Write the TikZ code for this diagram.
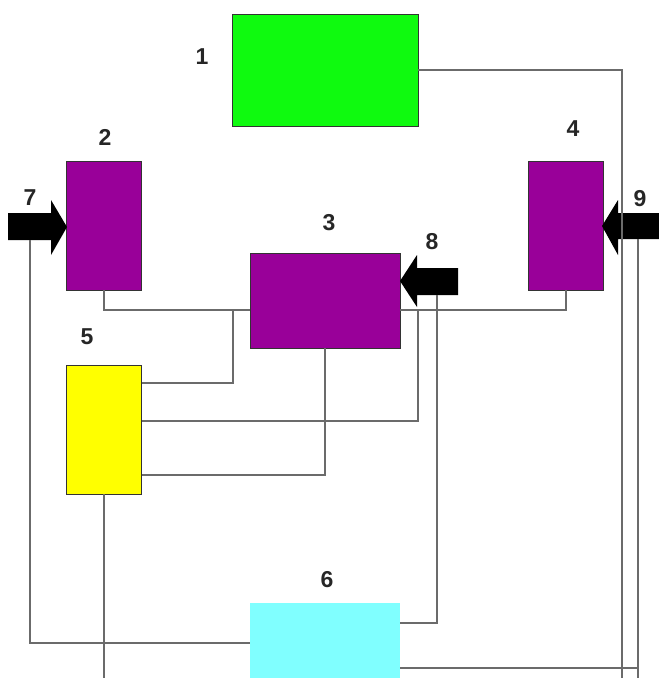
\documentclass[tikz,border=0pt]{standalone}
\usepackage{fontspec}
\setmainfont{Liberation Sans}
\begin{document}
\begin{tikzpicture}[x=1pt,y=-1pt,
  box/.style={draw=black!80,line width=0.6pt,inner sep=0pt},
  wire/.style={draw=black!58,line width=1.5pt},
  lbl/.style={font=\fontsize{23}{23}\selectfont\bfseries,text=black!85,inner sep=0pt},
  fatarrow/.style={fill=black}]
\useasboundingbox (0,0) rectangle (659,678);
\definecolor{cpurple}{RGB}{153,0,153}
\definecolor{cgreen}{RGB}{15,250,15}
\definecolor{cyellow}{RGB}{255,255,0}
\definecolor{ccyan}{RGB}{128,255,255}
% boxes
\node[box,fill=cgreen,minimum width=186pt,minimum height=112pt] (b1) at (325,70) {};
\node[box,fill=cpurple,minimum width=75pt,minimum height=129pt] (b2) at (104,225.5) {};
\node[box,fill=cpurple,minimum width=150pt,minimum height=95pt] (b3) at (325,300.5) {};
\node[box,fill=cpurple,minimum width=75pt,minimum height=129pt] (b4) at (566,225.5) {};
\node[box,fill=cyellow,minimum width=75pt,minimum height=129pt] (b5) at (104,429.5) {};
\node[inner sep=0pt,fill=ccyan,minimum width=150pt,minimum height=87pt] (b6) at (325,646.5) {};
% labels
\node[lbl] (l1) at (202,57) {1};
\node[lbl] (l2) at (105,137) {2};
\node[lbl] (l3) at (329,223) {3};
\node[lbl] (l4) at (573,129) {4};
\node[lbl] (l5) at (87,337) {5};
\node[lbl] (l6) at (327,580) {6};
\node[lbl] (l7) at (30,198) {7};
\node[lbl] (l8) at (432,242) {8};
\node[lbl] (l9) at (640,199) {9};
% fat arrows
\fill[fatarrow] (8,213) -- (51,213) -- (51,200) -- (67,227) -- (51,255) -- (51,240) -- (8,240) -- cycle;
\fill[fatarrow] (458,268) -- (417,268) -- (417,255) -- (400,281) -- (417,307) -- (417,295) -- (458,295) -- cycle;
\fill[fatarrow] (662,213) -- (618,213) -- (618,200) -- (602,226) -- (618,255) -- (618,239) -- (662,239) -- cycle;
\coordinate (a7) at (30,240);
\coordinate (a8) at (437,295);
\coordinate (a9) at (638,239);
\coordinate (r1) at (622,680);
\coordinate (r9) at (638,680);
\coordinate (bot5) at (104,680);
\coordinate (j1) at (233,310);
\coordinate (j2) at (418,310);
% wires
\draw[wire] (b1.east) -| (r1);
\draw[wire] (b2.south) |- ([yshift=-9.5pt]b3.west);
\draw[wire] (b4.south) |- ([yshift=-9.5pt]b3.east);
\draw[wire] ([yshift=46.5pt]b5.east) -| (j1);
\draw[wire] ([yshift=8.5pt]b5.east) -| (j2);
\draw[wire] (b3.south) |- ([yshift=-45.5pt]b5.east);
\draw[wire] (b5.south) -- (bot5);
\draw[wire] ([yshift=3.5pt]b6.west) -| (a7);
\draw[wire] ([yshift=23.5pt]b6.east) -| (a8);
\draw[wire] ([yshift=-21.5pt]b6.east) -| (r9);
\draw[wire] (a9) -- (r9);
\end{tikzpicture}
\end{document}
